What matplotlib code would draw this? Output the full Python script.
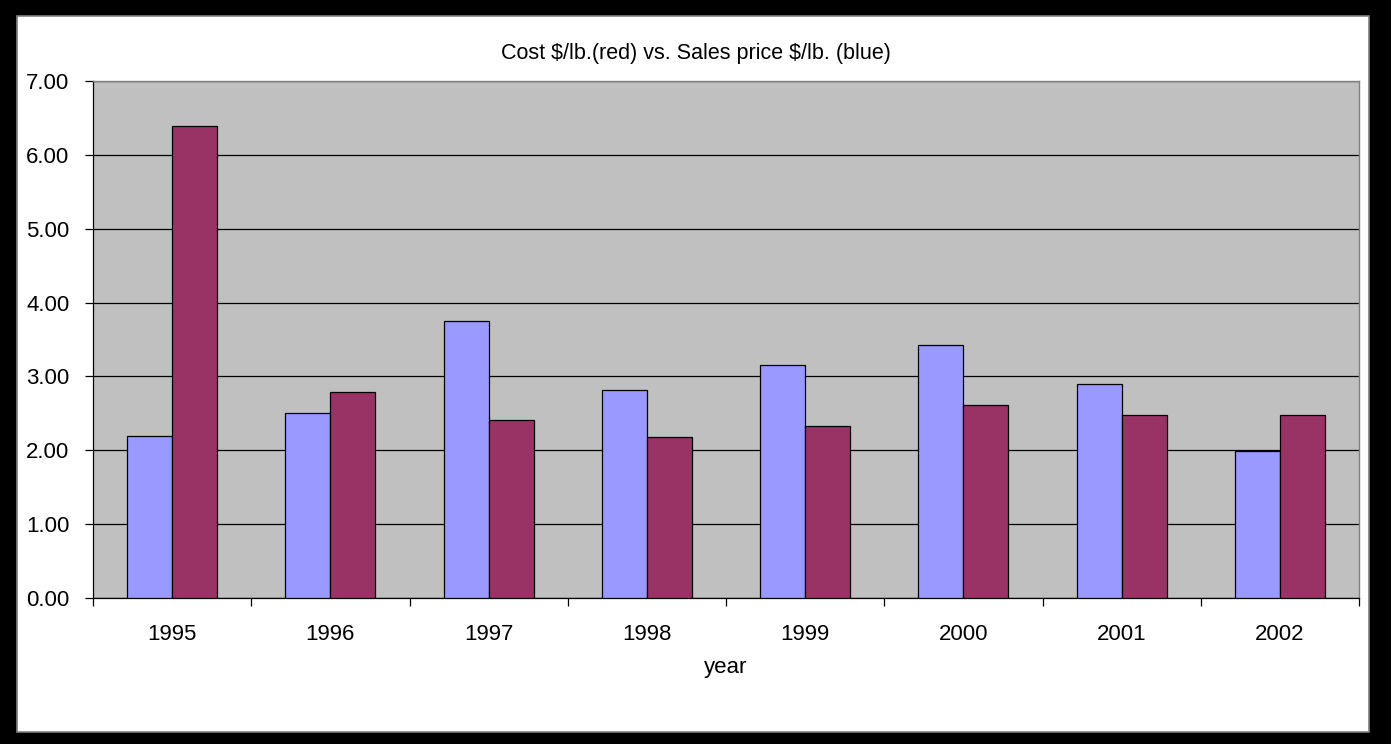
#!/usr/bin/env python3
from matplotlib import pyplot as plt
from matplotlib.patches import Rectangle
import numpy as np

years = ['1995', '1996', '1997', '1998', '1999', '2000', '2001', '2002']
sales_price = [2.19, 2.50, 3.75, 2.82, 3.15, 3.43, 2.90, 1.99]   # blue
cost = [6.39, 2.79, 2.41, 2.18, 2.33, 2.61, 2.48, 2.48]          # red

plt.rcParams['font.family'] = ['Liberation Sans', 'DejaVu Sans']

fig = plt.figure(figsize=(13.91, 7.44), dpi=100)

# black outer frame with white inner panel
W, H = 1391.0, 744.0
fig.patches.append(Rectangle((0, 0), 1, 1, transform=fig.transFigure,
                             facecolor='black', edgecolor='none', zorder=-10))
fig.patches.append(Rectangle((17 / W, 1 - 732 / H), (1369 - 17) / W, (732 - 16) / H,
                             transform=fig.transFigure, facecolor='white',
                             edgecolor='#808080', linewidth=1.2, zorder=-9))

ax = fig.add_axes([93 / W, 1 - 598 / H, (1359 - 93) / W, (598 - 81) / H])
ax.set_facecolor('#c0c0c0')

ind = np.arange(len(years))
width = 0.285
ax.bar(ind - width / 2, sales_price, width, color='#9999ff', edgecolor='black',
       linewidth=0.9, zorder=3)
ax.bar(ind + width / 2, cost, width, color='#993366', edgecolor='black',
       linewidth=0.9, zorder=3)

ax.set_xlim(-0.5, len(years) - 0.5)
ax.set_ylim(0, 7)
ax.set_yticks(np.arange(0, 8, 1))
ax.set_yticklabels(['%.2f' % v for v in np.arange(0, 8, 1)], fontsize=16)
ax.yaxis.grid(True, color='black', linewidth=0.9, zorder=1)
ax.set_axisbelow(True)

# ticks at category boundaries, labels at centres
ax.set_xticks(np.arange(-0.5, len(years), 1))
ax.set_xticklabels([])
ax.set_xticks(ind, minor=True)
ax.set_xticklabels(years, minor=True, fontsize=16)
ax.tick_params(axis='x', which='minor', length=0, pad=19)
ax.tick_params(axis='x', which='major', length=6, width=0.9, direction='out')
ax.tick_params(axis='y', length=6, width=0.9, direction='out', pad=11)

for s in ['left', 'bottom']:
    ax.spines[s].set_color('black')
    ax.spines[s].set_linewidth(0.9)
for s in ['top', 'right']:
    ax.spines[s].set_color('#808080')
    ax.spines[s].set_linewidth(1.0)

ax.set_xlabel('year', fontsize=16, labelpad=8)
fig.text(0.5, 1 - 53 / H, r'Cost \$/lb.(red) vs. Sales price \$/lb. (blue)',
         ha='center', va='center', fontsize=15.5)

plt.savefig('out.png', dpi=100)
